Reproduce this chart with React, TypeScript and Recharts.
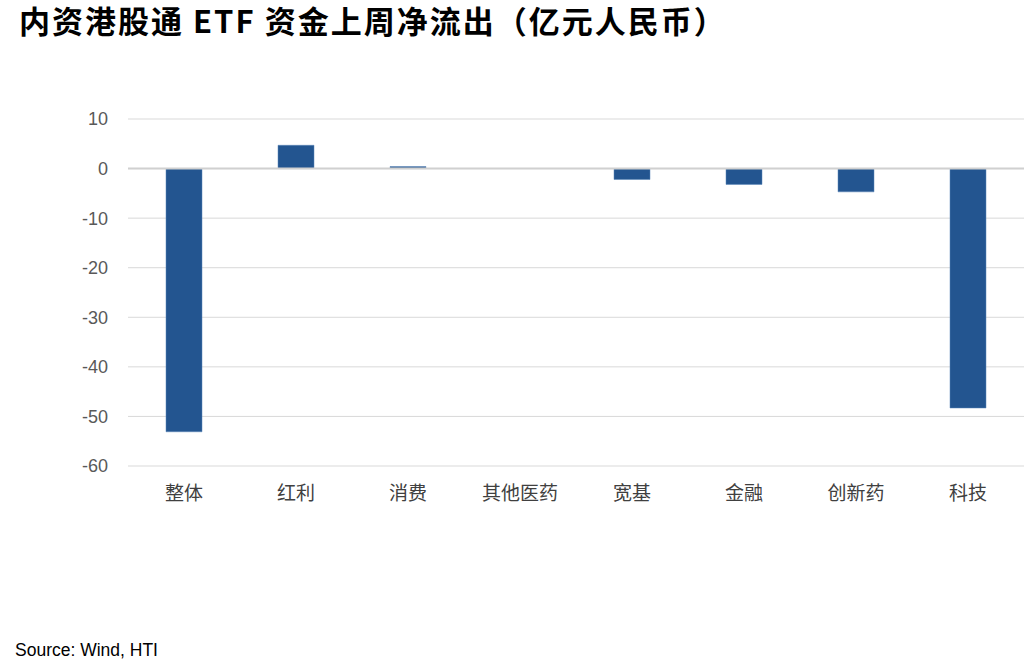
import React from "react";
import { BarChart, Bar, XAxis, YAxis, CartesianGrid, ReferenceLine } from "recharts";

const categories = ["整体", "红利", "消费", "其他医药", "宽基", "金融", "创新药", "科技"];
const flows = [-53.1, 4.7, 0.4, 0.0, -2.2, -3.2, -4.7, -48.3];
const yTicks = [-60, -50, -40, -30, -20, -10, 0, 10];

const data = categories.map((name, i) => ({ name, value: flows[i] }));

export default function App() {
  return (
    <div style={{ position: "absolute", left: 0, top: 0, width: 1035, height: 663, background: "#fff" }}>
      <div
        style={{
          position: "absolute",
          left: 19,
          top: 2,
          fontFamily: "'Noto Sans CJK SC', sans-serif",
          fontWeight: 700,
          fontSize: 31,
          letterSpacing: 2,
          lineHeight: "36px",
          color: "#000",
          whiteSpace: "nowrap",
        }}
      >
        内资港股通 ETF 资金上周净流出（亿元人民币）
      </div>
      <BarChart
        width={1035}
        height={663}
        data={data}
        margin={{ top: 119, right: 11, bottom: 167, left: 0 }}
        barCategoryGap={0}
      >
        <CartesianGrid vertical={false} stroke="#d9d9d9" strokeWidth={1} />
        <XAxis
          dataKey="name"
          axisLine={false}
          tickLine={false}
          tickSize={0}
          tickMargin={21}
          height={30}
          interval={0}
          tick={{ fill: "#404040", fontSize: 19, fontFamily: "'Noto Sans CJK SC', sans-serif" }}
        />
        <YAxis
          domain={[-60, 10]}
          ticks={yTicks}
          interval={0}
          axisLine={false}
          tickLine={false}
          tickSize={0}
          tickMargin={20}
          width={128}
          tick={{ fill: "#595959", fontSize: 18, fontFamily: "'Liberation Sans', sans-serif" }}
        />
        <ReferenceLine y={0} stroke="#d0d0d0" strokeWidth={2} />
        <Bar dataKey="value" fill="#235590" stroke="#5b86b8" strokeWidth={0.5} barSize={36} isAnimationActive={false} />
      </BarChart>
      <div
        style={{
          position: "absolute",
          left: 15,
          top: 640,
          fontFamily: "'Liberation Sans', sans-serif",
          fontSize: 17.5,
          color: "#000",
          whiteSpace: "nowrap",
        }}
      >
        Source: Wind, HTI
      </div>
    </div>
  );
}
